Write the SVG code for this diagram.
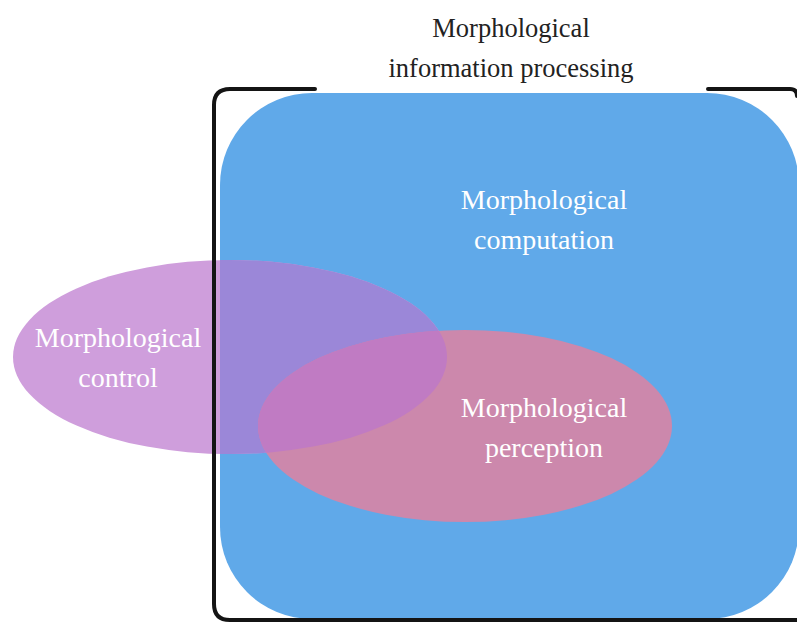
<svg xmlns="http://www.w3.org/2000/svg" width="797" height="622" viewBox="0 0 797 622">
<style>
.t{font-family:"Liberation Serif","DejaVu Serif",serif;text-anchor:middle;}
.w{fill:#ffffff;font-size:28px;}
.k{fill:#222222;font-size:26.5px;}
.br{fill:none;stroke:#141414;stroke-width:4;stroke-linecap:round;}
</style>
<defs>
<clipPath id="cRect"><rect x="220" y="93" width="579" height="526" rx="92" ry="92"/></clipPath>
<clipPath id="cPurple"><ellipse cx="230" cy="357" rx="217" ry="97"/></clipPath>
</defs>
<rect width="797" height="622" fill="#ffffff"/>
<g id="computation">
<rect x="220" y="93" width="579" height="526" rx="92" ry="92" fill="#60a9e9"/>
<text class="t w" x="544" y="209">Morphological</text>
<text class="t w" x="544" y="249">computation</text>
</g>
<g id="control">
<ellipse cx="230" cy="357" rx="217" ry="97" fill="#cf9edc"/>
<ellipse cx="230" cy="357" rx="217" ry="97" fill="#9b87d8" clip-path="url(#cRect)"/>
</g>
<g id="perception">
<ellipse cx="465" cy="426" rx="207" ry="96" fill="#cc88ac"/>
<ellipse cx="465" cy="426" rx="207" ry="96" fill="#c07bc3" clip-path="url(#cPurple)"/>
<text class="t w" x="544" y="417">Morphological</text>
<text class="t w" x="544" y="457">perception</text>
</g>
<g id="control-label">
<text class="t w" x="118" y="347">Morphological</text>
<text class="t w" x="118" y="387">control</text>
</g>
<g id="processing">
<path class="br" d="M315 89 L230 89 Q214 89 214 105 L214 604 Q214 620 230 620 L797 620"/>
<path class="br" d="M708 89 L790 89 Q797 89 797 96"/>
<text class="t k" x="511" y="37">Morphological</text>
<text class="t k" x="511" y="77">information processing</text>
</g>
</svg>
